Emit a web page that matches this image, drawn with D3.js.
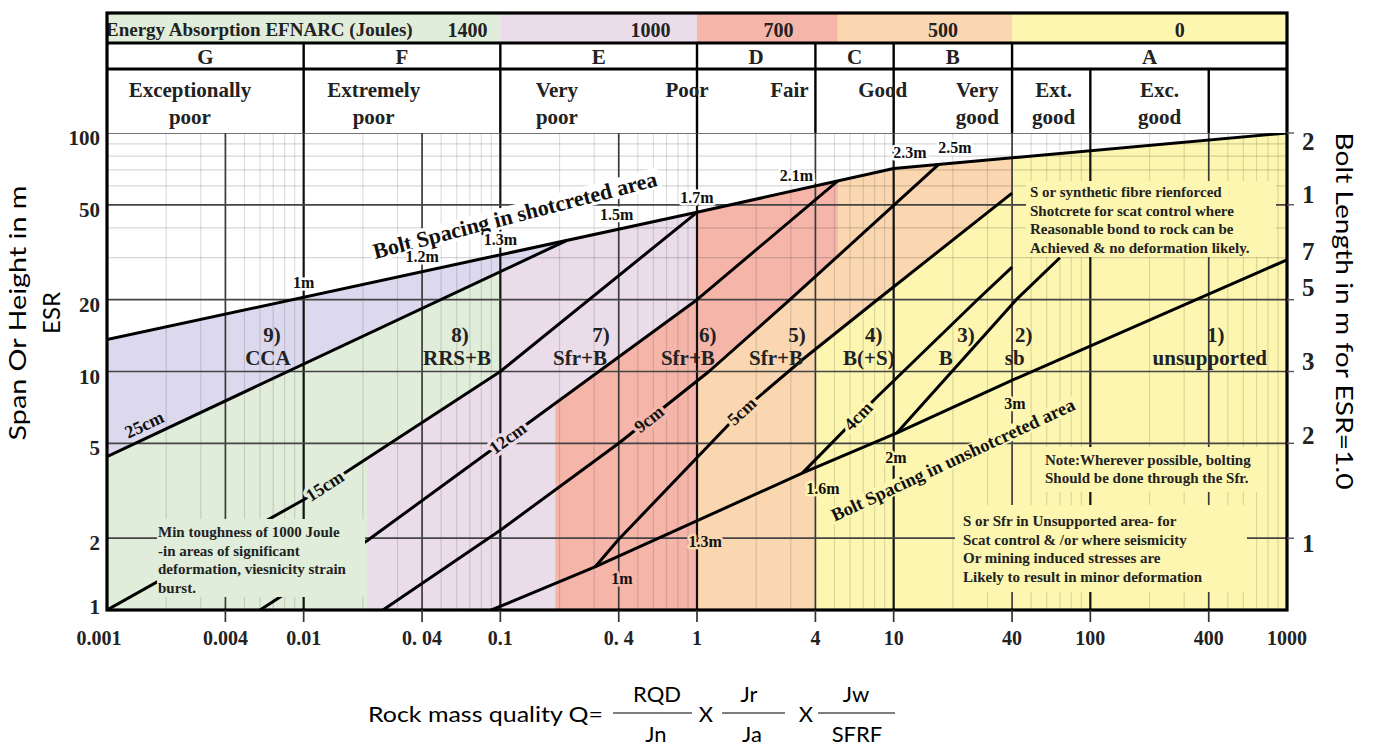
<!DOCTYPE html>
<html>
<head>
<meta charset="utf-8">
<script src="https://cdn.jsdelivr.net/npm/d3@7"></script>
<style>
html, body { margin: 0; padding: 0; background: #fff; }
svg { display: block; }
</style>
</head>
<body>
<svg id="chart" width="1374" height="751"></svg>
<script>
// ---------------- data ----------------
const qTicks = [0.001, 0.004, 0.01, 0.04, 0.1, 0.4, 1, 4, 10, 40, 100, 400, 1000];
const qTickLabels = ["0.001", "0.004", "0.01", "0. 04", "0.1", "0. 4", "1", "4", "10", "40", "100", "400", "1000"];
const spanTicks = [1, 2, 5, 10, 20, 50, 100];
const spanMinorTicks = [30, 40, 60, 70, 80, 90];
const boltLengthLabels = ["2", "1", "7", "5", "3", "2", "1"];
const boltLengthSpans = [92, 55, 32, 22.4, 11, 5.4, 1.9];

const energyClasses = ["1400", "1000", "700", "500", "0"];
const energyBreaks = [0.001, 0.1, 1, 5.2, 40, 1000];
const energyLabelQ = [0.068, 0.58, 2.6, 17.8, 285];

const rockClasses = ["G", "F", "E", "D", "C", "B", "A"];
const rockClassBreaks = [0.001, 0.01, 0.1, 1, 4, 10, 40, 1000];
const qualityDividers = [0.01, 0.1, 1, 4, 10, 40, 100, 400];
const qualityTerms = [["Exceptionally", "poor"], ["Extremely", "poor"], ["Very", "poor"], ["Poor"], ["Fair"],
                      ["Good"], ["Very", "good"], ["Ext.", "good"], ["Exc.", "good"]];
const qualityTermQ = [0.00264, 0.0227, 0.194, 0.89, 2.95, 8.8, 26.6, 65, 225];

// support category boundaries as [Q, span/ESR]
const shotcreteBoltLine = [[0.001, 13.6], [1, 46.5], [10, 71], [1000, 100]];
const line25cm = [[0.001, 4.4], [0.217, 35.4]];
const line15cm = [[0.001, 1], [0.01, 2.9], [0.1, 10], [1, 46.5]];
const line12cm = [[0.006, 1], [0.021, 1.95], [1, 20], [5.2, 63]];
const line9cm = [[0.0253, 1], [0.1, 2.16], [0.4, 5.0], [1.15, 10], [2.97, 20], [17, 74]];
const line5cm = [[0.303, 1.515], [0.397, 1.966], [1.65, 6.7], [3.43, 11.2], [8.2, 19.9], [40, 56]];
const line4cm = [[3.43, 3.75], [8.2, 7.8], [26.5, 19.9], [40, 27.4]];
const lineBolts = [[10.4, 5.53], [42, 20], [70, 30]];
const unshotcreteBoltLine = [[0.09, 1], [0.303, 1.515], [3.43, 3.75], [10.4, 5.53], [40.4, 9.22], [1000, 29.4]];

const thicknessLabels = ["25cm", "15cm", "12cm", "9cm", "5cm", "4cm"];
const thicknessLabelQ = [0.00165, 0.0128, 0.109, 0.57, 1.69, 6.6];

const shotcreteSpacingLabels = ["1m", "1.2m", "1.3m", "1.5m", "1.7m", "2.1m", "2.3m", "2.5m"];
const shotcreteSpacingQ = [0.01, 0.04, 0.1, 0.39, 1, 3.2, 12.1, 20.5];
const unshotSpacingLabels = ["1m", "1.3m", "1.6m", "2m", "3m"];
const unshotSpacingQ = [0.415, 1.1, 4.37, 10.26, 41.3];

const zoneNumbers = ["9)", "8)", "7)", "6)", "5)", "4)", "3)", "2)", "1)"];
const zoneNumberQ = [0.0069, 0.0623, 0.325, 1.135, 3.22, 7.93, 23.3, 45.9, 434];
const zoneNames = ["CCA", "RRS+B", "Sfr+B", "Sfr+B", "Sfr+B", "B(+S)", "B", "sb", "unsupported"];
const zoneNameQ = [0.00658, 0.0602, 0.254, 0.899, 2.52, 7.48, 18.4, 41.3, 405];

const toughnessNote = ["Min toughness of 1000 Joule", "-in areas of significant", "deformation, viesnicity  strain", "burst."];
const fibreNote = ["S or synthetic fibre rienforced", "Shotcrete for scat control where", "Reasonable bond to rock can be", "Achieved & no deformation likely."];
const boltingNote = ["Note:Wherever possible, bolting", "Should be done through the Sfr."];
const unsupportedNote = ["S or Sfr in Unsupported area- for", "Scat control & /or where seismicity", "Or mining induced stresses are", "Likely to result in minor deformation"];

// colour band edges along Q
const qGreenPurple = 0.021, qPurpleSalmon = 0.19, qSalmonPeachLow = 1, qSalmonPeachHigh = 5.2;
const qPeachYellowLow = 4, qPeachYellowHigh = 40;

// ---------------- setup ----------------
const C = {
  green: "#e0edda", lavender: "#dcd9ef", purple: "#ebdcea",
  salmon: "#f5b5a9", peach: "#fad7b0", yellow: "#fcf6b0"
};
const SERIF = "'Liberation Serif','Times New Roman',serif";
const SANS = "Lato,'Open Sans',sans-serif";

const svg = d3.select("#chart");
const X0 = 107, X1 = 1287, YTOP = 133, YBOT = 610, FRAME_TOP = 13;
const x = d3.scaleLog().domain([0.001, 1000]).range([X0, X1]);
const y = d3.scaleLog().domain([1, 100]).range([YBOT, YTOP]);

function spanAt(line, q) {
  const L = Math.log10(q);
  let i = 0;
  while (i < line.length - 2 && L > Math.log10(line[i + 1][0])) i++;
  const [q0, s0] = line[i], [q1, s1] = line[i + 1];
  const t = (L - Math.log10(q0)) / (Math.log10(q1) - Math.log10(q0));
  return Math.pow(10, Math.log10(s0) + t * (Math.log10(s1) - Math.log10(s0)));
}
function along(line, qa, qb) {
  const lo = Math.min(qa, qb), hi = Math.max(qa, qb);
  const pts = [[lo, spanAt(line, lo)]];
  line.forEach(p => { if (p[0] > lo * 1.0001 && p[0] < hi / 1.0001) pts.push(p); });
  pts.push([hi, spanAt(line, hi)]);
  return qa <= qb ? pts : pts.reverse();
}
const toPx = pts => pts.map(d => [x(d[0]), y(d[1])]);
const poly = pts => "M" + toPx(pts).map(p => p.join(",")).join("L") + "Z";
const pathGen = d3.line().x(d => x(d[0])).y(d => y(d[1]));

svg.append("rect").attr("width", 1374).attr("height", 751).attr("fill", "#fff");

svg.append("defs").append("clipPath").attr("id", "plotClip")
  .append("rect").attr("x", X0).attr("y", YTOP).attr("width", X1 - X0).attr("height", YBOT - YTOP);
svg.select("defs").append("clipPath").attr("id", "row1Clip")
  .append("rect").attr("x", X0).attr("y", FRAME_TOP).attr("width", X1 - X0).attr("height", 30);

const plot = svg.append("g").attr("clip-path", "url(#plotClip)");

// ---------------- coloured support areas ----------------
const topEnd25 = line25cm[line25cm.length - 1][0];
const regions = [
  { fill: C.yellow, pts: [[0.001, 1], ...along(shotcreteBoltLine, 0.001, 1000), [1000, 1]] },
  { fill: C.peach, pts: [[qSalmonPeachLow, 1], ...along(line9cm, qSalmonPeachLow, qSalmonPeachHigh),
      ...along(shotcreteBoltLine, qSalmonPeachHigh, qPeachYellowHigh), ...along(line5cm, qPeachYellowHigh, qPeachYellowLow), [qPeachYellowLow, 1]] },
  { fill: C.salmon, pts: [[qPurpleSalmon, 1], ...along(line12cm, qPurpleSalmon, 1),
      ...along(shotcreteBoltLine, 1, qSalmonPeachHigh), ...along(line9cm, qSalmonPeachHigh, qSalmonPeachLow), [qSalmonPeachLow, 1]] },
  { fill: C.purple, pts: [[qGreenPurple, 1], ...along(line15cm, qGreenPurple, 0.1), ...along(line25cm, 0.1, topEnd25),
      ...along(shotcreteBoltLine, topEnd25, 1), ...along(line12cm, 1, qPurpleSalmon), [qPurpleSalmon, 1]] },
  { fill: C.green, pts: [[0.001, 1], ...along(line25cm, 0.001, 0.1), ...along(line15cm, 0.1, qGreenPurple), [qGreenPurple, 1]] },
  { fill: C.lavender, pts: [...along(shotcreteBoltLine, 0.001, topEnd25), ...along(line25cm, topEnd25, 0.001)] }
];
plot.selectAll("path.region").data(regions).join("path")
  .attr("class", "region").attr("d", d => poly(d.pts)).attr("fill", d => d.fill);

// ---------------- grid ----------------
const minorQ = [];
for (let e = -3; e < 3; e++) for (let k = 2; k <= 9; k++) {
  const v = k * Math.pow(10, e);
  if (!qTicks.some(t => Math.abs(t - v) / v < 1e-6)) minorQ.push(v);
}
plot.selectAll("line.vminor").data(minorQ).join("line")
  .attr("x1", d => x(d)).attr("x2", d => x(d)).attr("y1", YTOP).attr("y2", YBOT)
  .attr("stroke", "rgba(0,0,0,0.13)").attr("stroke-width", 1.2);
plot.selectAll("line.hminor").data(spanMinorTicks).join("line")
  .attr("x1", X0).attr("x2", X1).attr("y1", d => y(d)).attr("y2", d => y(d))
  .attr("stroke", "rgba(0,0,0,0.16)").attr("stroke-width", 1.2);
const decades = [0.01, 0.1, 1, 10, 100];
plot.selectAll("line.vmajor").data(qTicks.slice(1, -1)).join("line")
  .attr("x1", d => x(d)).attr("x2", d => x(d)).attr("y1", YTOP).attr("y2", YBOT)
  .attr("stroke", d => decades.includes(d) ? "#111" : "#3a3a3a")
  .attr("stroke-width", d => decades.includes(d) ? 2.2 : 1.7);
plot.selectAll("line.hmajor").data(spanTicks.slice(1)).join("line")
  .attr("x1", X0).attr("x2", X1).attr("y1", d => y(d)).attr("y2", d => y(d))
  .attr("stroke", "#444").attr("stroke-width", 1.7);

// ---------------- boundary lines ----------------
const boundaries = [shotcreteBoltLine, line25cm, line15cm, line12cm, line9cm, line5cm, line4cm, lineBolts, unshotcreteBoltLine];
plot.selectAll("path.boundary").data(boundaries).join("path")
  .attr("class", "boundary").attr("d", pathGen)
  .attr("fill", "none").attr("stroke", "#000").attr("stroke-width", 3).attr("stroke-linejoin", "round");

// ---------------- note boxes ----------------
function noteBox(lines, bx, by, bw, bh, tx, baseline0, step, fill) {
  plot.append("rect").attr("x", bx).attr("y", by).attr("width", bw).attr("height", bh).attr("fill", fill);
  const t = svg.append("text").attr("font-family", SERIF).attr("font-size", 15)
    .attr("font-weight", "bold").attr("fill", "#222");
  lines.forEach((s, i) => t.append("tspan").attr("x", tx).attr("y", baseline0 + i * step).text(s));
}
noteBox(toughnessNote, 157, 519, 208, 78, 158, 537, 18.5, C.green);
noteBox(fibreNote, 1026, 181, 250, 76, 1030, 197, 18.7, C.yellow);
noteBox(boltingNote, 1040, 447, 224, 45, 1045, 465, 18, C.yellow);
noteBox(unsupportedNote, 955, 505, 292, 87, 963, 526, 18.7, C.yellow);

// ---------------- rotated captions along the spacing lines ----------------
function boxedCaption(text, cx, cy, angle, size, fill) {
  const g = svg.append("g").attr("transform", `translate(${cx},${cy}) rotate(${angle})`);
  const t = g.append("text").attr("text-anchor", "middle").attr("dominant-baseline", "central")
    .attr("font-family", SERIF).attr("font-weight", "bold").attr("font-size", size).attr("fill", "#111").text(text);
  const bb = t.node().getBBox();
  g.insert("rect", "text").attr("x", bb.x - 3).attr("y", bb.y + 2).attr("width", bb.width + 6).attr("height", bb.height - 4).attr("fill", fill);
}
boxedCaption("Bolt Spacing in shotcreted area", 515, 215, -14.5, 22, "#fff");
boxedCaption("Bolt Spacing in unshotcreted area", 953, 460, -25, 18.5, C.yellow);

function halo(sel, bg, w) {
  return sel.attr("stroke", bg).attr("stroke-width", w).attr("paint-order", "stroke").attr("stroke-linejoin", "round");
}

// shotcrete thickness labels lying on their lines
const thicknessLines = [line25cm, line15cm, line12cm, line9cm, line5cm, line4cm];
const thicknessBg = [C.lavender, C.green, C.purple, C.salmon, C.peach, C.yellow];
const thicknessOffset = [-13, 0, 0, 0, 0, 0];
thicknessLabels.forEach((lab, i) => {
  const line = thicknessLines[i], q = thicknessLabelQ[i];
  const xa = x(q / 1.15), xb = x(q * 1.15), ya = y(spanAt(line, q / 1.15)), yb = y(spanAt(line, q * 1.15));
  const ang = Math.atan2(yb - ya, xb - xa) * 180 / Math.PI;
  const g = svg.append("g").attr("transform", `translate(${x(q)},${y(spanAt(line, q))}) rotate(${ang}) translate(0,${thicknessOffset[i]})`);
  const t = g.append("text").attr("text-anchor", "middle").attr("dominant-baseline", "central")
    .attr("font-family", SERIF).attr("font-weight", "bold").attr("font-size", 18).attr("fill", "#111").text(lab);
  if (thicknessOffset[i] === 0) halo(t, thicknessBg[i], 7);
});

// bolt spacing values
shotcreteSpacingLabels.forEach((lab, i) => {
  const q = shotcreteSpacingQ[i];
  halo(svg.append("text").attr("x", x(q)).attr("y", y(spanAt(shotcreteBoltLine, q)) - 15)
    .attr("text-anchor", "middle").attr("dominant-baseline", "central")
    .attr("font-family", SERIF).attr("font-weight", "bold").attr("font-size", 16).attr("fill", "#111").text(lab), "#fff", 5);
});
const unshotBg = [C.salmon, C.peach, C.yellow, C.yellow, C.yellow];
unshotSpacingLabels.forEach((lab, i) => {
  const q = unshotSpacingQ[i];
  halo(svg.append("text").attr("x", x(q)).attr("y", y(spanAt(unshotcreteBoltLine, q)) + 24)
    .attr("text-anchor", "middle").attr("dominant-baseline", "central")
    .attr("font-family", SERIF).attr("font-weight", "bold").attr("font-size", 16).attr("fill", "#111").text(lab), unshotBg[i], 5);
});

// support category labels
zoneNumbers.forEach((lab, i) => {
  svg.append("text").attr("x", x(zoneNumberQ[i])).attr("y", 342).attr("text-anchor", "middle")
    .attr("font-family", SERIF).attr("font-weight", "bold").attr("font-size", 21).attr("fill", "#222").text(lab);
  svg.append("text").attr("x", x(zoneNameQ[i])).attr("y", 365).attr("text-anchor", "middle")
    .attr("font-family", SERIF).attr("font-weight", "bold").attr("font-size", 21).attr("fill", "#222").text(zoneNames[i]);
});

// ---------------- header ----------------
const hdr = svg.append("g");
const row1 = hdr.append("g").attr("clip-path", "url(#row1Clip)");
const energyFill = [C.green, C.purple, C.salmon, C.peach, C.yellow];
energyClasses.forEach((lab, i) => {
  row1.append("rect").attr("x", x(energyBreaks[i])).attr("y", FRAME_TOP)
    .attr("width", x(energyBreaks[i + 1]) - x(energyBreaks[i])).attr("height", 30).attr("fill", energyFill[i]);
  row1.append("text").attr("x", x(energyLabelQ[i])).attr("y", 37).attr("text-anchor", "middle")
    .attr("font-family", SERIF).attr("font-weight", "bold").attr("font-size", 20).attr("fill", "#222").text(lab);
});
row1.append("text").attr("x", 106).attr("y", 36).attr("font-family", SERIF).attr("font-weight", "bold")
  .attr("font-size", 19).attr("fill", "#222").text("Energy Absorption EFNARC (Joules)");

rockClasses.forEach((lab, i) => {
  const cx = (x(rockClassBreaks[i]) + x(rockClassBreaks[i + 1])) / 2;
  hdr.append("text").attr("x", cx).attr("y", 64).attr("text-anchor", "middle")
    .attr("font-family", SERIF).attr("font-weight", "bold").attr("font-size", 21).attr("fill", "#222").text(lab);
});
hdr.selectAll("line.r2").data(rockClassBreaks.slice(1, -1)).join("line")
  .attr("x1", d => x(d)).attr("x2", d => x(d)).attr("y1", 43).attr("y2", 69)
  .attr("stroke", "#000").attr("stroke-width", 2.4);
hdr.selectAll("line.r3").data(qualityDividers).join("line")
  .attr("x1", d => x(d)).attr("x2", d => x(d)).attr("y1", 69).attr("y2", YTOP)
  .attr("stroke", "#000").attr("stroke-width", 2.4);
qualityTerms.forEach((lines, i) => {
  lines.forEach((s, j) => hdr.append("text").attr("x", x(qualityTermQ[i])).attr("y", 97 + j * 27)
    .attr("text-anchor", "middle").attr("font-family", SERIF).attr("font-weight", "bold")
    .attr("font-size", 21).attr("fill", "#222").text(s));
});

// frame and header rules
svg.append("rect").attr("x", X0).attr("y", FRAME_TOP).attr("width", X1 - X0).attr("height", YBOT - FRAME_TOP)
  .attr("fill", "none").attr("stroke", "#000").attr("stroke-width", 3.2);
[43, 69].forEach(yy => svg.append("line").attr("x1", X0).attr("x2", X1).attr("y1", yy).attr("y2", yy)
  .attr("stroke", "#000").attr("stroke-width", 3.2));

// ---------------- axes ----------------
svg.selectAll("line.qtick").data(qTicks.slice(1, -1)).join("line")
  .attr("x1", d => x(d)).attr("x2", d => x(d)).attr("y1", YBOT).attr("y2", YBOT + 12)
  .attr("stroke", "#333").attr("stroke-width", 1.7);
svg.selectAll("text.qlab").data(qTicks).join("text")
  .attr("x", d => x(d)).attr("dx", (d, i) => i === 0 ? -8 : 0).attr("y", 645).attr("text-anchor", "middle")
  .attr("font-family", SERIF).attr("font-weight", "bold").attr("font-size", 20).attr("fill", "#222")
  .text((d, i) => qTickLabels[i]);
svg.selectAll("text.slab").data(spanTicks).join("text")
  .attr("x", 100).attr("y", d => Math.min(y(d) + 5, 607)).attr("text-anchor", "end").attr("dominant-baseline", "central")
  .attr("font-family", SERIF).attr("font-weight", "bold").attr("font-size", 21).attr("fill", "#222").text(d => d);
boltLengthLabels.forEach((lab, i) => {
  svg.append("text").attr("x", 1302).attr("y", y(boltLengthSpans[i])).attr("dominant-baseline", "central")
    .attr("font-family", SERIF).attr("font-weight", "bold").attr("font-size", 25).attr("fill", "#222").text(lab);
});
// right-hand tick stubs
svg.selectAll("line.rtick").data(spanTicks.slice(1)).join("line")
  .attr("x1", X1).attr("x2", X1 + 7).attr("y1", d => y(d)).attr("y2", d => y(d))
  .attr("stroke", "#555").attr("stroke-width", 1.4);

// axis titles
svg.append("text").attr("transform", "translate(26,313) rotate(-90)").attr("text-anchor", "middle")
  .attr("font-family", SANS).attr("font-size", 24).attr("fill", "#000")
  .attr("textLength", 255).attr("lengthAdjust", "spacingAndGlyphs").text("Span Or Height in m");
svg.append("text").attr("transform", "translate(60,313) rotate(-90)").attr("text-anchor", "middle")
  .attr("font-family", SANS).attr("font-size", 24).attr("fill", "#000").text("ESR");
svg.append("text").attr("transform", "translate(1336,311) rotate(90)").attr("text-anchor", "middle")
  .attr("font-family", SANS).attr("font-size", 24).attr("fill", "#000")
  .attr("textLength", 357).attr("lengthAdjust", "spacingAndGlyphs").text("Bolt Length in m for ESR=1.0");

// Q definition
const f = svg.append("g").attr("font-family", SANS).attr("font-size", 22).attr("fill", "#000");
f.append("text").attr("x", 368).attr("y", 722).attr("textLength", 235).attr("lengthAdjust", "spacingAndGlyphs").text("Rock mass quality Q=");
const fractions = [["RQD", "Jn", 613, 692, 657, 656], ["Jr", "Ja", 722, 785, 749, 752], ["Jw", "SFRF", 818, 895, 856, 857]];
fractions.forEach(([num, den, a, b, cn, cd]) => {
  f.append("line").attr("x1", a).attr("x2", b).attr("y1", 713).attr("y2", 713).attr("stroke", "#000").attr("stroke-width", 1.2);
  f.append("text").attr("x", cn).attr("y", 702).attr("text-anchor", "middle").text(num);
  f.append("text").attr("x", cd).attr("y", 742).attr("text-anchor", "middle").text(den);
});
[706, 806].forEach(cx => f.append("text").attr("x", cx).attr("y", 722).attr("text-anchor", "middle").text("X"));
</script>
</body>
</html>
